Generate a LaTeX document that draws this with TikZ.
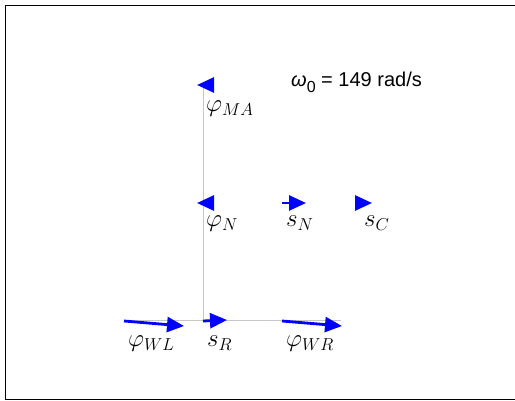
\documentclass[tikz,border=0pt]{standalone}
\usepackage{fontspec}
\newfontfamily\arialf{Liberation Sans}
\usetikzlibrary{arrows.meta}
\tikzset{
  vec/.style={line width=2.8pt, blue, -{Triangle[length=17pt,width=15pt]}},
  axisln/.style={draw=black!22, line width=1pt},
  lbl/.style={anchor=base west, inner sep=0pt, font=\fontsize{23}{26}\selectfont},
}
\begin{document}
\begin{tikzpicture}[x=1pt,y=-1pt]
\useasboundingbox (0,0) rectangle (515,401);
\draw[line width=0.8pt] (5.5,5.5) -- (530,5.5) (5.5,5.5) -- (5.5,399.5) -- (530,399.5);
% axes lines
\coordinate (top) at (203,88);
\coordinate (corner) at (203,321);
\coordinate (hl) at (125,321);
\coordinate (hr) at (341,321);
\draw[axisln] (top) -- (corner);
\draw[axisln] (hl) -- (hr);
% vectors
\coordinate (maS) at (214,85); \coordinate (maE) at (197,85);
\coordinate (nS) at (214,203); \coordinate (nE) at (197,203);
\coordinate (snS) at (282,203); \coordinate (snE) at (306,203);
\coordinate (scS) at (355,203); \coordinate (scE) at (372,203);
\coordinate (wlS) at (124,321); \coordinate (wlE) at (184,326);
\coordinate (srS) at (203,321); \coordinate (srE) at (227,320);
\coordinate (wrS) at (282,321); \coordinate (wrE) at (342,326);
\draw[vec] (maS) -- (maE);
\draw[vec] (nS) -- (nE);
\draw[vec] (snS) -- (snE);
\draw[vec] (scS) -- (scE);
\draw[vec] (wlS) -- (wlE);
\draw[vec] (srS) -- (srE);
\draw[vec] (wrS) -- (wrE);
% labels
\node[lbl] (lma) at (206,112) {$\varphi_{MA}$};
\node[lbl] (ln) at (206,227) {$\varphi_{N}$};
\node[lbl] (lsn) at (286,227) {$s_{N}$};
\node[lbl] (lsc) at (364,227) {$s_{C}$};
\node[lbl] (lwl) at (128,347) {$\varphi_{WL}$};
\node[lbl] (lsr) at (207,347) {$s_{R}$};
\node[lbl] (lwr) at (286,347) {$\varphi_{WR}$};
\node[anchor=base west, inner sep=0pt, font=\arialf\fontsize{20}{22}\selectfont] (omega) at (291,87)
  {{\itshape ω}\raisebox{-6pt}{\fontsize{16}{18}\selectfont 0} = 149 rad/s};
\end{tikzpicture}
\end{document}
